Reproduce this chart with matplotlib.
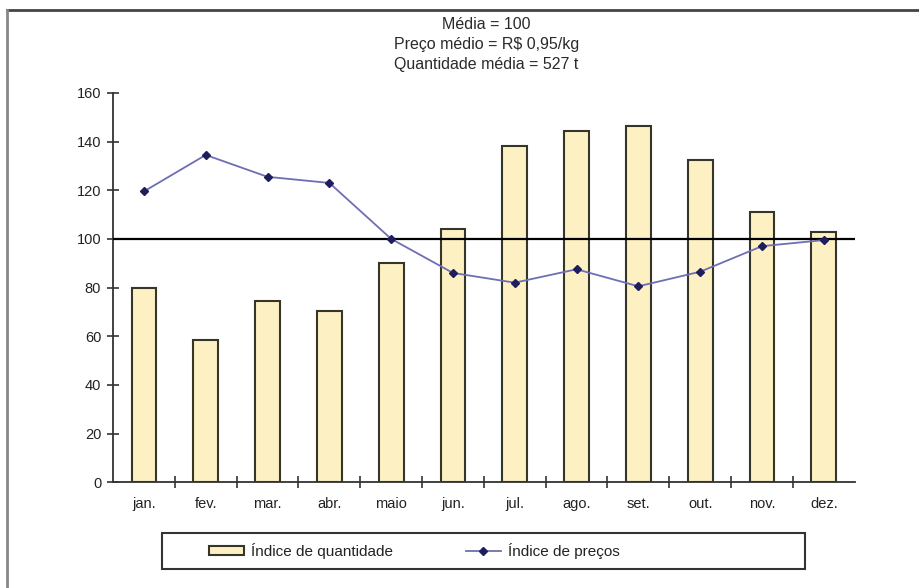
import numpy as np
import matplotlib.pyplot as plt
from matplotlib.lines import Line2D
from matplotlib.patches import Rectangle

plt.rcParams['font.family'] = ['Liberation Sans', 'DejaVu Sans']

# Monthly indices (media = 100)
meses = ["jan.", "fev.", "mar.", "abr.", "maio", "jun.", "jul.", "ago.", "set.", "out.", "nov.", "dez."]
indice_quantidade = [80, 58.5, 74.5, 70.5, 90, 104, 138, 144.5, 146.5, 132.5, 111, 103]
indice_precos = [119.5, 134.5, 125.5, 123, 100, 86, 82, 87.5, 80.5, 86.5, 97, 99.5]
titulo = ["Média = 100", "Preço médio = R$ 0,95/kg", "Quantidade média = 527 t"]

fig = plt.figure(figsize=(9.19, 5.88), dpi=100)
ax = fig.add_axes([0.123, 0.180, 0.807, 0.662])

x = np.arange(len(meses))
barras = ax.bar(x, indice_quantidade, width=0.4, color="#fdf1c4",
                edgecolor="#35352a", linewidth=1.5, zorder=2)
linha, = ax.plot(x, indice_precos, color="#6e6eb4", lw=1.3, marker="D",
                 markersize=4, markerfacecolor="#1e1e5c", markeredgecolor="#1e1e5c",
                 zorder=4)
ax.axhline(100, color="black", lw=1.6, zorder=3)

ax.set_xlim(-0.5, len(meses) - 0.5)
ax.set_ylim(0, 160)
ax.set_yticks(range(0, 161, 20))
ax.set_xticks(x)
ax.set_xticklabels(meses)
ax.set_xticks(x[:-1] + 0.5, minor=True)
ax.tick_params(axis="x", which="major", length=0, pad=11, labelsize=10.5, colors="#222")
ax.tick_params(axis="x", which="minor", length=8, direction="inout", width=1.2, color="#333")
ax.tick_params(axis="y", length=9, direction="inout", width=1.2, color="#333",
               labelsize=10.5, labelcolor="#222", pad=4)

for s in ["top", "right"]:
    ax.spines[s].set_visible(False)
for s in ["left", "bottom"]:
    ax.spines[s].set_color("#333")
    ax.spines[s].set_linewidth(1.3)

# three-line heading above the plot
for i, t in enumerate(titulo):
    fig.text(0.529, 0.958 - i * 0.034, t, ha="center", va="center",
             fontsize=11.5, color="#2a2a2a")

# outer frame: top and left edges only
fig.add_artist(Line2D([0.008, 1.0], [0.983, 0.983], transform=fig.transFigure,
                      color="#444", lw=2))
fig.add_artist(Line2D([0.008, 0.008], [0.0, 0.983], transform=fig.transFigure,
                      color="#888", lw=2))

# legend box
fig.add_artist(Rectangle((0.1763, 0.0323), 0.6997, 0.0612, transform=fig.transFigure,
                         facecolor="white", edgecolor="#333", lw=1.5, zorder=0))
fig.legend([barras, linha], ["Índice de quantidade", "Índice de preços"],
           loc="center", bbox_to_anchor=(0.451, 0.0629), ncol=2, frameon=False,
           fontsize=11, handlelength=2.3, handleheight=0.6, handletextpad=0.45,
           columnspacing=4.75, numpoints=1, labelcolor="#222")

fig.savefig("out.png", dpi=100)
